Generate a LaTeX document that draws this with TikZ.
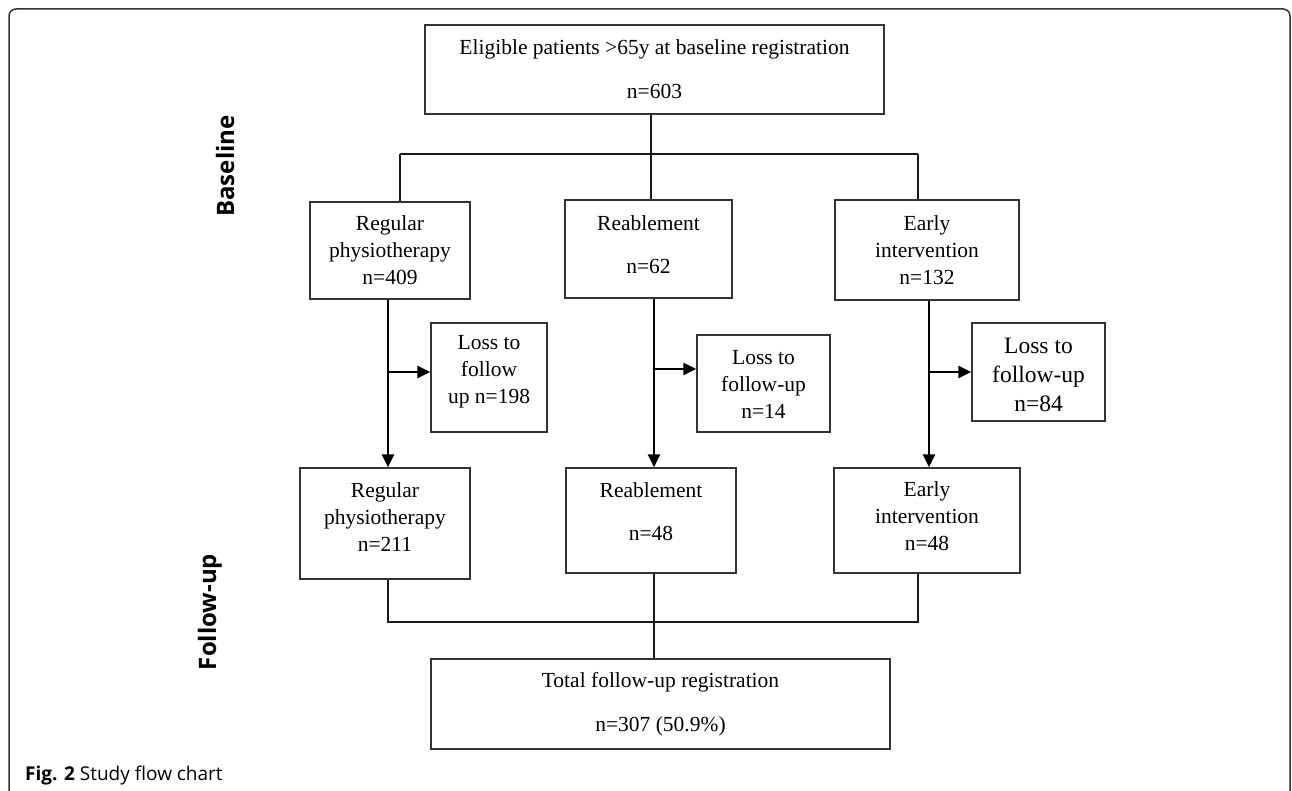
\documentclass[tikz,border=0pt]{standalone}
\usepackage{fontspec}
\setmainfont{Liberation Serif}
\newfontfamily\lblfont{Open Sans}
\usetikzlibrary{arrows.meta,calc}
\tikzset{
  box/.style={draw=black!80, line width=1.3pt, rectangle, inner sep=0pt},
  txt/.style={align=center, font=\fontsize{21.5}{27}\selectfont, inner sep=0pt},
  txtb/.style={align=center, font=\fontsize{23.5}{29}\selectfont, inner sep=0pt},
  conn/.style={draw=black!90, line width=1.2pt},
  arr/.style={draw=black, line width=2.5pt, -{Triangle[length=13pt,width=12pt]}},
  side/.style={font=\lblfont\bfseries\fontsize{24}{28}\selectfont, rotate=90, inner sep=0pt},
}
\begin{document}
\begin{tikzpicture}[x=1pt,y=-1pt]
\useasboundingbox (0,0) rectangle (1292,791);
% frame
\draw[black!80, line width=1.5pt, rounded corners=7pt] (9,800) -- (9,9) -- (1290,9) -- (1290,800);

% top box
\node[box, minimum width=459, minimum height=89,
  label={[txt]center:{Eligible patients >65y at baseline registration\\[17pt]n=603}}] (top) at (654.5,69.5) {};

% baseline boxes
\node[box, minimum width=160, minimum height=97,
  label={[txt]center:{Regular\\physiotherapy\\n=409}}] (rp1) at (390,250.5) {};
\node[box, minimum width=167, minimum height=98,
  label={[txt,yshift=4pt]center:{Reablement\\[16pt]n=62}}] (re1) at (648.5,249) {};
\node[box, minimum width=184, minimum height=100,
  label={[txt]center:{Early\\intervention\\n=132}}] (ei1) at (927,250) {};

% loss boxes
\node[box, minimum width=116, minimum height=109,
  label={[txt,yshift=6pt]center:{Loss to\\follow\\up n=198}}] (ll) at (489,377.5) {};
\node[box, minimum width=133, minimum height=97,
  label={[txt,yshift=-0.5pt]center:{Loss to\\follow-up\\n=14}}] (lm) at (763.5,383.5) {};
\node[box, minimum width=133, minimum height=98,
  label={[txtb,yshift=-2.5pt]center:{Loss to\\follow-up\\n=84}}] (lr) at (1038.5,372) {};

% follow-up boxes
\node[box, minimum width=170, minimum height=111,
  label={[txt,yshift=6.5pt]center:{Regular\\physiotherapy\\n=211}}] (rp2) at (385,523.5) {};
\node[box, minimum width=170, minimum height=105,
  label={[txt,yshift=8.5pt]center:{Reablement\\[16pt]n=48}}] (re2) at (651,520.5) {};
\node[box, minimum width=186, minimum height=105,
  label={[txt,yshift=4pt]center:{Early\\intervention\\n=48}}] (ei2) at (927,520.5) {};

% total box
\node[box, minimum width=459, minimum height=90,
  label={[txt]center:{Total follow-up registration\\[17pt]n=307 (50.9\%)}}] (tot) at (660.5,704) {};

% side labels
\node[side] (lbase) at (225,166) {Baseline};
\node[side] (lfu) at (210,612) {Follow-up};

% caption
\node[anchor=west, inner sep=0pt, font=\lblfont\fontsize{19}{23}\selectfont] (cap) at (25,776)
  {\textbf{Fig. 2} Study flow chart};

% connectors top
\coordinate (jl) at (400,154);
\coordinate (jm) at (651,154);
\coordinate (jr) at (918,154);
\draw[conn] (top.south -| jm) -- (jm);
\draw[conn] (jl) -- (jr);
\draw[conn] (jl) -- (jl |- rp1.north);
\draw[conn] (jm) -- (jm |- re1.north);
\draw[conn] (jr) -- (jr |- ei1.north);

% arrows
\coordinate (al) at (388,372);
\coordinate (am) at (654,369);
\coordinate (ar) at (929,372);
\draw[arr] (rp1.south -| al) -- (rp2.north -| al);
\draw[arr] (re1.south -| am) -- (re2.north -| am);
\draw[arr] (ei1.south -| ar) -- (ei2.north -| ar);
\draw[arr] (al) -- (al -| ll.west);
\draw[arr] (am) -- (am -| lm.west);
\draw[arr] (ar) -- (ar -| lr.west);

% connectors bottom
\coordinate (fl) at (388,622);
\coordinate (fm) at (654,622);
\coordinate (fr) at (918,622);
\draw[conn] (rp2.south -| fl) -- (fl) -- (fr) -- (ei2.south -| fr);
\draw[conn] (re2.south -| fm) -- (tot.north -| fm);
\end{tikzpicture}
\end{document}
